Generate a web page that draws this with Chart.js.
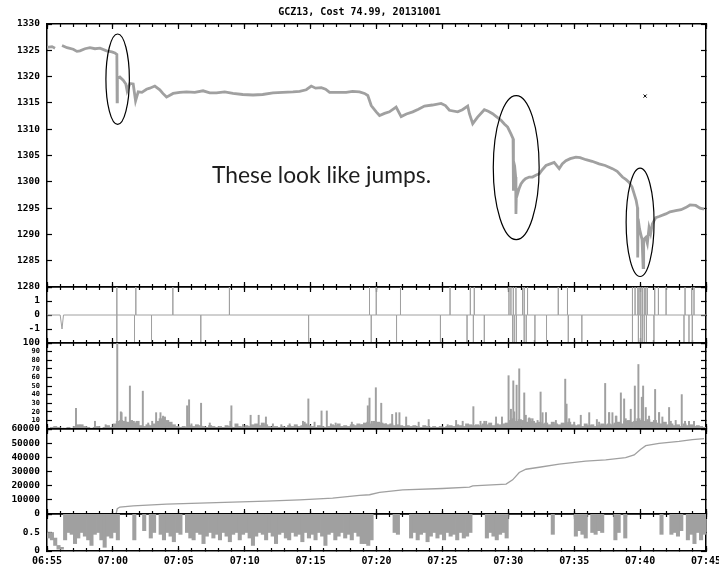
<!DOCTYPE html>
<html><head><meta charset="utf-8">
<script src="https://cdn.jsdelivr.net/npm/chart.js@4/dist/chart.umd.min.js"></script>
<style>
body{margin:0;background:#fff}
#wrap{position:relative;width:719px;height:570px;overflow:hidden;background:#fff}
canvas{position:absolute;left:0}
#title{position:absolute;left:0;top:7px;width:719px;text-align:center;font:bold 10px 'DejaVu Sans Mono';line-height:10px;color:#000;white-space:pre}
#note{position:absolute;left:212px;top:163px;font:22.8px Lato;line-height:22px;color:#1e1e1e;white-space:nowrap}
</style></head><body>
<div id="wrap">
<canvas id="c1" width="719" height="311" style="top:0px"></canvas>
<canvas id="c2" width="719" height="104" style="top:263px"></canvas>
<canvas id="c3" width="719" height="134" style="top:319px"></canvas>
<canvas id="c4" width="719" height="133" style="top:405px"></canvas>
<canvas id="c5" width="719" height="80" style="top:490px"></canvas>
<div id="title">GCZ13, Cost 74.99, 20131001</div>
<div id="note">These look like jumps.</div>
</div>
<script>
// ---------- DATA (x = minutes after 06:55) ----------
const timeLabels = ['06:55','07:00','07:05','07:10','07:15','07:20','07:25','07:30','07:35','07:40','07:45'];

const priceTime = [0,0.38,0.61,0.9,1.14,1.52,1.99,2.27,2.5,2.88,
3.26,3.64,4.02,4.52,4.92,5.15,5.30,5.32,5.34,5.53,
5.78,5.98,6.08,6.29,6.54,6.72,6.92,7.2,7.55,7.8,
8.18,8.56,8.79,9.07,9.57,10.08,10.58,11.21,11.84,12.35,
12.86,13.48,14.11,14.85,15.63,16.36,17.14,17.88,18.66,19.17,
19.67,20.05,20.38,20.81,21.14,21.44,22.05,22.7,23.18,23.71,
24.09,24.34,24.6,24.98,25.23,25.61,25.98,26.49,26.87,27.27,
27.75,28.18,28.64,29.24,29.9,30.23,30.53,31.16,31.52,31.92,
32.05,32.3,32.67,33.18,33.48,33.81,34.09,34.45,34.7,34.95,
35.2,35.36,35.38,35.4,35.48,35.56,35.58,35.62,35.7,35.83,
35.96,36.14,36.3,36.59,36.84,37.12,37.35,37.58,37.86,38.18,
38.48,38.86,39.09,39.37,39.7,40.13,40.45,40.89,41.36,41.89,
42.35,42.9,43.26,43.66,43.94,44.17,44.39,44.55,44.7,44.8,
44.82,44.85,44.96,45.05,45.15,45.23,45.27,45.43,45.55,45.68,
45.8,45.93,46.19,46.44,46.95,47.27,47.7,48.11,48.46,48.79,
49.22,49.55,49.85];
const price = [1325.55,1325.7,1325.4,null,1325.9,1325.5,1325.2,1324.8,1324.9,1325.3,
1325.5,1325.3,1325.4,1324.9,1324.7,1324.5,1324.2,1315.2,1319.6,1319.9,
1319.3,1318.6,1317.3,1318.7,1318.6,1315.4,1317.1,1317.0,1317.6,1317.8,
1318.2,1317.5,1316.8,1316.1,1316.8,1317.0,1317.1,1317.0,1317.3,1316.9,
1316.9,1317.1,1316.8,1316.6,1316.5,1316.6,1316.9,1317.0,1317.1,1317.2,
1317.5,1318.2,1317.8,1317.9,1317.6,1317.0,1317.0,1317.0,1317.2,1317.1,
1316.8,1316.4,1314.5,1313.3,1312.6,1313.0,1313.3,1314.2,1312.4,1312.9,
1313.3,1313.8,1314.4,1314.6,1314.9,1314.5,1313.6,1313.3,1313.7,1314.4,
1312.95,1311.05,1312.3,1313.7,1313.4,1312.95,1312.4,1311.7,1311.0,1310.4,
1309.1,1308.2,1298.3,1304.0,1303.0,1300.9,1293.9,1298.5,1297.7,1298.8,
1299.6,1300.2,1300.6,1300.9,1300.9,1301.3,1301.5,1302.3,1303.1,1303.4,
1303.7,1302.5,1303.4,1304.0,1304.4,1304.7,1304.6,1304.2,1303.9,1303.4,
1303.1,1302.5,1302.0,1300.9,1300.4,1299.9,1299.0,1297.7,1296.5,1295.1,
1285.6,1293.0,1291.0,1290.05,1289.0,1283.7,1289.0,1289.4,1288.3,1291.3,
1290.2,1292.0,1293.2,1293.4,1293.9,1294.3,1294.5,1294.7,1295.1,1295.6,
1295.5,1295.0,1294.8];
const markerT = [45.38], markerP = [1316.3];
// annotation ellipses: centre time, centre price, half-width (min), half-height (price)
const ellT = [5.36, 35.6, 45.0];
const ellP = [1319.5, 1302.7, 1292.3];
const ellRT = [0.89, 1.74, 1.06];
const ellRP = [8.6, 13.7, 10.3];

// panel 2: signed jump flags
const jumpUpT = [5.30,6.74,9.55,13.84,24.47,24.98,26.82,30.58,32.12,32.42,35.05,35.2,35.38,35.58,36.08,36.21,36.46,38.79,39.49,44.42,44.62,44.83,44.92,45.05,45.17,45.33,45.43,45.55,46.11,46.39,46.97,48.41,48.92,49.09];
const jumpDownT = [5.30,6.64,7.93,11.67,19.85,24.6,26.52,29.85,31.87,32.35,33.18,35.33,35.45,35.61,36.2,36.36,37.02,37.9,39.55,40.58,44.42,44.87,45.05,45.17,45.3,45.48,46.05,48.33,48.71,48.96];
const dipT = [1.0, 1.14, 1.25];
const dipV = [0, -1, 0];

// panel 3: activity (0..100), background level per quarter minute + spikes
const floorVals = [1,2,3,2,1, 1,2,1,3,5, 5,3,2,1,2, 3,1,2,4,2,
6,9,10,9,8,10,7,9, 4,3,5,4,6, 9,12,14,10,8,5,3,
2,3,2,4,3,5,4,3,2,4, 3,2,3,2,4,3,2,6,3,2,
4,3,5,6,4,7,5,3,2,3, 2,3,2,4,3,5,3,4,6,4,
3,2,4,3,2,3,5,4,6,3, 4,3,5,4,6,5,7,8,6,9,
8,7,6,5,6,4,5,4,3,4, 3,4,3,2,4,3,2,3,2,3,
2,3,4,3,5,4,3,6,5,4, 5,4,6,5,7,4,6,5,6,7,
10,12,9,11,10,8,12,9,7,8, 6,7,5,8,6,5,7,6,8,5,
4,5,3,6,4,5,3,4,6,5, 6,5,7,8,6,9,10,8,9,12,
10,9,11,8,10,7,6,8,5,6, 4,5,3,6,4,5,3,4,3,2];
const spikeT = [2.2,5.33,5.6,6.29,7.27,8.28,8.61,8.81,10.63,10.78,11.69,13.99,15.45,16.06,16.61,19.83,20.83,21.23,
24.34,24.47,24.95,25.36,26.19,26.49,26.74,27.25,28.96,31.54,32.35,33.18,34.07,34.52,
35.02,35.2,35.38,35.63,35.83,36.21,36.59,37.45,37.6,37.86,39.32,39.42,40.5,41.14,41.72,
42.35,42.65,42.9,43.2,43.54,43.79,44.29,44.6,44.87,45.13,45.23,45.43,46.14,46.44,46.69,47.2,48.16,48.41,48.71,49.09,
3.64,4.45,5.66,5.96,6.59,6.8,7.68,7.98,10.96,12.35,13.91,14.87,17.14,17.78,18.41,19.42,19.55,20.3,21.54,21.9,23.13,23.26,23.89,24.65,
25.72,28.2,30.4,31.04,32.89,33.32,35.45,36.33,36.84,37.22,38.61,39.62,40.0,41.89,42.65,43.16,43.91,45.68,46.44,47.33,47.7,48.71];
const spikeV = [24,100,20,50,44,19,19,15,27,34,30,27,16,16,14,35,21,21,
27,36,48,30,17,19,19,14,11,9,26,9,14,14,
62,23,56,51,70,42,13,43,19,19,58,29,16,19,11,
53,19,19,15,42,35,23,50,75,37,50,25,46,19,14,25,40,9,9,9,
9,5,19,14,9,8,7,9,6,7,9,5,6,5,6,9,8,8,6,7,8,5,5,9,
6,8,5,10,9,9,20,16,12,10,10,12,8,8,19,15,12,15,19,9,10,9];

// panel 4: cumulative volume
const cumT = [2.5,5.25,5.33,5.53,6.54,9.07,11.59,14.09,16.64,19.17,21.67,23.71,24.47,25.23,26.99,30,32.05,32.3,34.83,35.33,35.83,36.34,37.35,38.86,40.87,42.39,43.9,44.55,45.05,45.43,46.44,47.95,48.96,49.85];
const cumV = [300,400,3700,4900,5800,7000,7700,8400,9100,10000,11200,13100,13600,15200,17100,18000,19000,19900,21100,24100,29300,31600,33000,35200,37300,38200,39800,41700,45700,48200,49900,51300,52500,53200];

// panel 5: fraction (0..1) per quarter minute: lowest value reached (1 = stays at top)
const fracLow = [0.35,0.3,0.15,0.05,0.05,
0.3,0.5,0.45,0.2,0.35,0.5,0.4,0.3,0.15,0.45,0.5,0.3,0.1,0.4,0.35,0.5,0.3,
1,1,1,1, 0.3, 1,1, 0.55, 1, 0.35, 0.5, 1,
0.45,0.3,0.5,0.4,0.25,0.5,0.45,1,0.5,0.35,
0.3,0.5,0.45,0.2,0.4,0.5,0.35,0.45,0.3,0.5,
0.4,0.25,0.45,0.5,0.3,0.45,0.5,0.35,0.15,0.4,
0.5,0.45,0.3,0.5,0.4,0.2,0.45,0.5,0.35,0.3,
0.5,0.4,0.45,0.25,0.5,0.35,0.45,0.3,0.5,0.4,
0.15,0.45,0.5,0.3,0.4,0.5,0.35,0.45,0.3,0.5,
0.4,0.2,
0.2,0.15,0.3, 1,1,1,1,1,1, 0.5,0.45, 1,1,1,
0.35,0.5,0.3,0.45,0.5,0.25,0.4,0.5,0.35,0.45,0.3,0.5,0.4,0.45,0.3,0.5,0.35,0.4,0.5,
1,1,1,1, 0.35,0.5,0.4,0.3,0.45,0.5,0.35,
1,1,1,1,1,1,1,1,1,1,1,1,1, 0.45, 1,1,1,1,1,1,
0.4,0.55,0.45,0.35, 1, 0.5,0.45,0.55,0.5, 1,1,1,
0.3,0.5,1,0.35, 1,1,1,1,1,1,1,1,1,1, 0.45, 1,1,
0.45,0.5,0.4,0.55, 1, 0.3,0.45,0.2,0.5,0.3,0.45];
const fracHighStart = [0.5,0.5,0.35,0.15,0.1];

// ---------- CHARTS ----------
const GRAY = '#a0a0a0';
const FONT = 'DejaVu Sans Mono';
const BIN = 0.25;

function xAxes(withLabels){
  const base = (pos, step, len, border) => ({
    type:'linear', position:pos, min:0, max:50, offset:false,
    ticks:{display:false, stepSize:step},
    grid:{display:true, offset:false, drawOnChartArea:false, drawTicks:true, tickLength:len, tickWidth:1.2, tickColor:'#000'},
    border:{display:border, color:'#000', width:1.5},
    afterFit:s=>{s.height=0; s.paddingLeft=0; s.paddingRight=0;}
  });
  const sc = {x: base('bottom',1,-3,true), xMajB: base('bottom',5,-5,false),
              xMinT: base('top',1,-3,true), xMajT: base('top',5,-5,false)};
  if (withLabels) {
    sc.xLab = {type:'linear', position:'bottom', min:0, max:50, offset:false,
      ticks:{stepSize:5, autoSkip:false, maxRotation:0, minRotation:0, padding:4.5, color:'#000',
             font:{family:FONT, size:10, weight:'bold'},
             callback:v=>timeLabels[Math.round(v/5)]},
      grid:{display:false, offset:false, drawTicks:false}, border:{display:false},
      afterFit:s=>{s.height=19; s.paddingLeft=0; s.paddingRight=0;}};
  }
  return sc;
}
function yAxes(min, max, step, cb, font){
  const grid = {display:true, drawOnChartArea:false, drawTicks:true, tickLength:-5, tickWidth:1.2, tickColor:'#000'};
  return {
    y:{type:'linear', position:'left', min, max,
       ticks:{stepSize:step, autoSkip:false, padding:12, color:'#000',
              font: font || {family:FONT, size:9.5, weight:'bold'}, callback:cb},
       grid, border:{display:true, color:'#000', width:1.5},
       afterFit:s=>{s.width=47; s.paddingTop=0; s.paddingBottom=0;}},
    y2:{type:'linear', position:'right', min, max,
       ticks:{display:false, stepSize:step},
       grid, border:{display:true, color:'#000', width:1.5},
       afterFit:s=>{s.width=13; s.paddingTop=0; s.paddingBottom=0;}}
  };
}
function opts(scales, padBottom, plugins){
  return {animation:false, responsive:false, events:[], devicePixelRatio:1,
    layout:{padding:{top:24, bottom:padBottom, left:0, right:0}},
    plugins:Object.assign({legend:{display:false}, tooltip:{enabled:false}}, plugins||{}),
    datasets:{bar:{grouped:false}},
    scales};
}

const ellipsePlugin = {
  id:'ellipses',
  afterDatasetsDraw(chart){
    const {ctx, scales:{x, y}} = chart;
    ctx.save();
    ctx.strokeStyle = '#000'; ctx.lineWidth = 1.2;
    for (let i = 0; i < ellT.length; i++) {
      const cx = x.getPixelForValue(ellT[i]), cy = y.getPixelForValue(ellP[i]);
      const rx = Math.abs(x.getPixelForValue(ellT[i] + ellRT[i]) - cx);
      const ry = Math.abs(y.getPixelForValue(ellP[i] + ellRP[i]) - cy);
      ctx.beginPath(); ctx.ellipse(cx, cy, rx, ry, 0, 0, Math.PI*2); ctx.stroke();
    }
    ctx.restore();
  }
};

const numLabel = v => String(v);

// Panel 1: price
new Chart(document.getElementById('c1'), {
  type:'line',
  data:{datasets:[
    {data: priceTime.map((t,i)=>({x:t, y:price[i]})), borderColor:GRAY, borderWidth:2.8,
     pointRadius:0, tension:0, spanGaps:false},
    {data: markerT.map((t,i)=>({x:t, y:markerP[i]})), showLine:false, pointStyle:'crossRot',
     pointRadius:2.2, borderColor:'#000', borderWidth:1, backgroundColor:'#000'}
  ]},
  options: opts(Object.assign(xAxes(false), yAxes(1280, 1330, 5, numLabel)), 24),
  plugins:[ellipsePlugin]
});

// Panel 2: jump flags
const evts = jumpUpT.map(t=>[t,2]).concat(jumpDownT.map(t=>[t,-2]));
let p2 = [{x:0, y:0}];
evts.forEach(([t,v]) => { p2.push({x:t,y:0},{x:t,y:v},{x:t,y:0}); });
dipT.forEach((t,i)=>p2.push({x:t, y:dipV[i]}));
p2.push({x:50, y:0});
p2.sort((a,b)=>a.x-b.x);
new Chart(document.getElementById('c2'), {
  type:'line',
  data:{datasets:[{data:p2, borderColor:GRAY, borderWidth:1, pointRadius:0, tension:0}]},
  options: opts(Object.assign(xAxes(false), yAxes(-2, 2, 1, v => (Math.abs(v) === 2 ? '' : String(v)))), 24)
});

// Panel 3: activity
new Chart(document.getElementById('c3'), {
  type:'bar',
  data:{datasets:[
    {data: floorVals.map((v,i)=>({x:i*BIN+BIN/2, y:v})), backgroundColor:GRAY, barThickness:3.3, borderWidth:0},
    {data: spikeT.map((t,i)=>({x:t, y:spikeV[i]})), backgroundColor:GRAY, barThickness:1.3, borderWidth:0}
  ]},
  options: opts(Object.assign(xAxes(false), yAxes(0, 100, 10, v => (v === 0 ? '' : String(v)),
    ctx => ({family:FONT, size:(ctx.tick && ctx.tick.value === 100) ? 9.5 : 7, weight:'bold'}))), 24)
});

// Panel 4: cumulative
new Chart(document.getElementById('c4'), {
  type:'line',
  data:{datasets:[{data: cumT.map((t,i)=>({x:t, y:cumV[i]})), borderColor:GRAY, borderWidth:1.3, pointRadius:0, tension:0}]},
  options: opts(Object.assign(xAxes(false), yAxes(0, 60000, 10000, numLabel)), 24)
});

// Panel 5: fraction
const p5 = [];
fracLow.forEach((lo,i)=>{
  const hi = i < fracHighStart.length ? fracHighStart[i] : 1;
  if (lo < hi) p5.push({x:i*BIN+BIN/2, y:[lo, hi]});
});
new Chart(document.getElementById('c5'), {
  type:'bar',
  data:{datasets:[{data:p5, backgroundColor:GRAY, barThickness:3.4, borderWidth:0}]},
  options: opts(Object.assign(xAxes(true), yAxes(0, 1, 0.5, v => (v === 1 ? '' : String(v)))), 0)
});
</script>
</body></html>
